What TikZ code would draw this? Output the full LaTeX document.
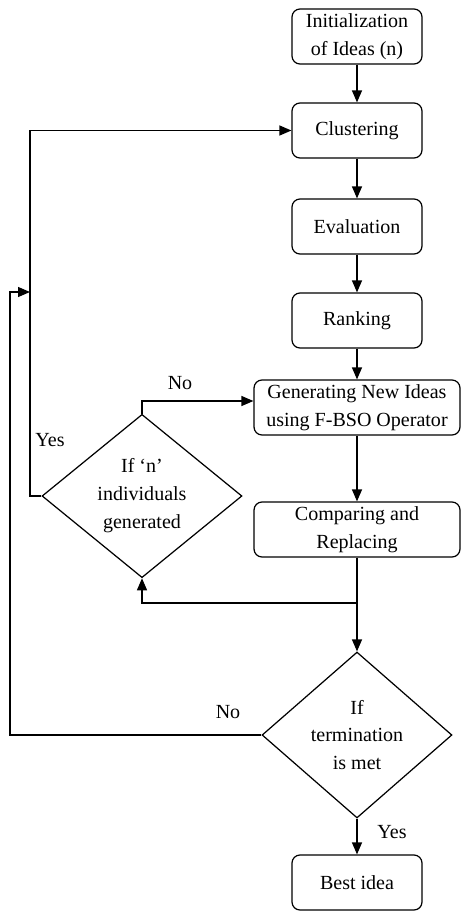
\documentclass[tikz,border=0pt]{standalone}
\usepackage{fontspec}
\setmainfont{Liberation Serif}
\usetikzlibrary{shapes.geometric,arrows.meta}

\begin{document}
\begin{tikzpicture}[x=0.02cm,y=-0.02cm,line width=0.7pt,
    >={Triangle[length=2.4mm,width=2mm]},->,
    font=\fontsize{11.4}{15.9}\selectfont]
    \tikzstyle{block}=[rectangle,rounded corners=1.6mm,draw=black,minimum width=2.6cm,minimum height=1.1cm,inner sep=0pt,align=center]
    \tikzstyle{wideblock}=[block,minimum width=4.12cm]
    \tikzstyle{decision}=[diamond,draw=black,inner sep=0pt,align=center]
    \useasboundingbox (0,0) rectangle (460,913);

    \node[block] (init) at (357,36.5) {Initialization\\of Ideas (n)};
    \node[block] (clus) at (357,130.5) {Clustering};
    \node[block] (eval) at (357,226.5) {Evaluation};
    \node[block] (rank) at (357,320.5) {Ranking};
    \node[wideblock] (gen) at (357,407.5) {Generating New Ideas\\using F-BSO Operator};
    \node[wideblock] (comp) at (357,529.5) {Comparing and\\Replacing};
    \node[decision,minimum width=4cm,minimum height=3.26cm] (ifn) at (142,496) {If ‘n’\\individuals\\generated};
    \node[decision,minimum width=3.8cm,minimum height=3.32cm] (term) at (357,735) {If\\termination\\is met};
    \node[block] (best) at (357,882.5) {Best idea};

    \coordinate (junc) at (357,603);
    \coordinate (yes) at (30,292);
    \coordinate (loop) at (10,292);

    \foreach \from/\to in {init/clus,clus/eval,eval/rank,rank/gen,gen/comp,comp/term,term/best}
        \draw (\from) -- (\to);

    \draw (junc) -| (ifn.south);
    \draw (ifn.north) |- ([yshift=0.13cm]gen.west);
    \draw (ifn.west) -| (yes) |- (clus.west);
    \draw (term.west) -| (loop) -- (yes);

    % labels
    \node (no1) at (180,383) {No};
    \node (yes1) at (50,440) {Yes};
    \node (no2) at (228,712) {No};
    \node (yes2) at (392,832) {Yes};
\end{tikzpicture}
\end{document}
